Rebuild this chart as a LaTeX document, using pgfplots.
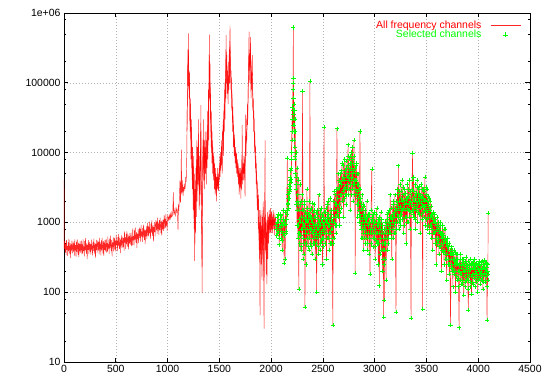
\documentclass[border=0pt]{standalone}
\usepackage{pgfplots}
\usepackage{pgfplotstable}
\pgfplotsset{compat=1.18}
\usepackage{fontspec}
\setmainfont{Liberation Sans}

\pgfplotstableread{
x y
0 4000
2 410
4 440
8 537
12 370
16 493
20 343
24 563
28 405
32 462
36 330
40 519
44 387
48 581
52 418
56 352
60 506
64 308
68 484
72 396
76 550
80 361
84 452
88 528
92 378
96 502
100 334
104 572
108 396
112 471
116 321
120 528
124 378
128 572
132 427
136 343
140 515
144 317
148 493
152 387
156 541
160 370
164 431
168 550
172 352
176 484
180 361
184 572
188 387
192 449
196 326
200 537
204 396
208 594
212 409
216 356
220 510
224 299
228 475
232 405
236 559
240 352
244 453
248 524
252 374
256 497
260 346
264 568
268 409
272 466
276 337
280 524
284 391
288 585
292 423
296 356
300 510
304 312
308 490
312 400
316 562
320 369
324 474
328 552
332 396
336 524
340 350
344 598
348 414
352 492
356 336
360 552
364 396
368 598
372 446
376 359
380 538
384 331
388 515
392 405
396 566
400 386
404 451
408 575
412 368
416 506
420 377
424 624
428 422
432 490
436 355
440 586
444 432
448 648
452 446
456 389
460 557
464 326
468 518
472 442
476 610
480 384
484 490
488 598
492 412
496 549
500 382
504 666
508 478
512 546
516 390
520 614
524 458
528 686
532 494
536 416
540 598
544 364
548 572
552 468
556 650
560 426
564 536
568 624
572 447
576 593
580 395
584 741
588 513
592 610
596 416
600 684
604 490
608 741
612 553
616 445
620 667
624 410
628 638
632 502
636 701
640 479
644 559
648 712
652 456
656 627
660 467
664 819
668 554
672 643
676 466
680 769
684 567
688 850
692 586
696 510
700 731
704 428
708 680
712 580
716 800
720 504
724 649
728 840
732 602
736 798
740 532
744 910
748 630
752 735
756 525
760 826
764 616
768 924
772 665
776 560
780 805
784 490
788 770
792 630
796 875
800 574
804 774
808 988
812 632
816 869
820 648
824 1027
828 695
832 806
836 585
840 964
844 711
848 1067
852 735
856 640
860 916
864 537
868 853
872 727
876 1003
880 632
884 927
888 1080
892 774
896 1026
900 684
904 1170
908 810
912 963
916 657
920 1080
924 774
928 1170
932 873
936 702
940 1053
944 648
948 1008
952 792
956 1107
960 756
964 1000
968 1275
972 816
976 1122
980 836
984 1326
988 898
992 1040
996 755
1000 1244
1005 1180
1010 1080
1015 1250
1020 1120
1025 1300
1030 1150
1035 1380
1040 1200
1046 1250
1050 1400
1056 2700
1060 1280
1065 1500
1070 1350
1075 1250
1080 1550
1085 1400
1090 1600
1095 1450
1101 780
1105 1700
1110 1550
1115 2400
1120 4000
1125 1900
1129 3200
1133 11000
1137 2500
1141 2800
1146 4000
1150 2400
1155 3200
1160 2800
1165 3600
1170 3000
1175 4500
1180 3800
1185 8000
1190 40000
1195 190000
1198 90000
1201 510000
1205 120000
1208 60000
1212 150000
1215 40000
1218 20000
1222 60000
1226 8000
1230 30000
1234 15000
1238 4000
1242 12000
1246 2500
1250 9000
1254 1500
1258 5000
1262 280
1266 3000
1270 700
1274 6000
1278 1200
1282 15000
1286 2000
1290 8000
1294 3500
1298 30000
1302 5000
1306 1500
1310 9000
1314 2500
1318 12000
1322 48000
1326 3000
1330 800
1334 97
1338 1500
1342 6000
1346 30000
1350 4000
1354 10000
1358 3000
1362 20000
1366 5000
1370 12000
1374 3500
1378 9000
1382 6000
1386 25000
1390 8000
1394 80000
1398 15000
1401 150000
1404 490000
1407 60000
1410 200000
1413 30000
1416 70000
1420 12000
1424 25000
1428 7000
1432 15000
1436 5000
1440 10000
1444 4000
1448 8000
1452 3000
1456 6000
1460 2500
1464 5000
1468 3500
1472 2000
1476 4500
1480 3000
1484 6000
1488 3500
1492 2800
1496 5000
1500 4000
1504 7000
1508 4500
1512 10000
1516 6000
1520 15000
1524 8000
1528 5000
1532 12000
1536 25000
1540 9000
1544 40000
1548 20000
1552 80000
1556 30000
1560 150000
1563 60000
1566 480000
1569 100000
1572 250000
1576 70000
1580 150000
1584 50000
1588 120000
1592 80000
1596 300000
1600 100000
1603 660000
1606 200000
1609 150000
1612 80000
1616 120000
1620 40000
1624 60000
1628 20000
1632 35000
1636 12000
1640 20000
1644 9000
1648 15000
1652 7000
1656 11000
1660 6000
1664 9000
1668 5000
1672 7500
1676 4500
1680 6500
1684 3500
1688 5500
1692 2500
1696 5000
1700 3200
1704 6000
1708 2200
1712 4500
1716 3000
1721 25000
1724 3500
1728 6000
1732 4000
1736 7000
1740 5000
1744 8000
1748 2300
1754 35000
1758 9000
1762 20000
1766 15000
1770 40000
1774 25000
1778 80000
1782 150000
1787 540000
1790 200000
1794 100000
1798 250000
1802 450000
1806 60000
1810 150000
1814 80000
1818 120000
1821 50000
1824 40000
1828 60000
1832 20000
1836 30000
1840 10000
1844 15000
1848 6000
1852 9000
1856 3500
1860 5000
1864 2000
1868 1500
1872 3000
1876 800
1880 1200
1884 400
1888 900
1893 47
1896 600
1900 1300
1904 250
1908 800
1912 150
1916 1200
1920 400
1924 2000
1928 200
1932 30
1936 900
1942 15000
1945 400
1948 1000
1952 180
1956 700
1960 130
1964 900
1968 300
1972 1200
1976 500
1980 1500
1984 700
1988 1300
1992 900
1996 1600
2000 800
2004 1400
2008 700
2012 1200
2016 900
2020 1500
2024 800
2028 1100
2032 650
2036 1300
2040 900
2044 1200
}\allchan

\pgfplotstableread{
x y
1187 20000
1192 70000
1197 300000
1200 200000
1203 250000
1207 80000
1210 100000
1214 60000
1217 25000
1220 35000
1224 15000
1228 20000
1232 6000
1236 9000
1240 3000
1244 7000
1248 1500
1252 4000
1256 800
1260 2500
1264 500
1268 1800
1272 4000
1276 2500
1280 8000
1284 3500
1288 12000
1292 5000
1296 15000
1300 8000
1304 3000
1308 5000
1312 1800
1316 6000
1320 20000
1324 6000
1328 1500
1332 300
1336 2500
1340 10000
1344 15000
1348 7000
1352 5000
1356 15000
1360 6000
1364 10000
1368 7000
1372 20000
1376 6000
1380 15000
1384 10000
1388 40000
1392 20000
1396 60000
1400 100000
1403 250000
1406 150000
1409 80000
1412 100000
1415 40000
1418 20000
1422 40000
1426 10000
1430 20000
1434 8000
1438 12000
1442 6000
1446 9000
1450 5000
1454 7000
1458 4000
1462 6000
1466 3000
1470 4500
1474 2800
1478 5000
1482 4000
1486 3000
1490 4500
1494 3500
1498 6000
1502 5000
1506 9000
1510 5500
1514 8000
1518 10000
1522 12000
1526 7000
1530 20000
1534 15000
1538 30000
1542 18000
1546 50000
1550 35000
1554 100000
1558 60000
1561 200000
1564 300000
1567 200000
1570 150000
1574 180000
1578 90000
1582 100000
1586 70000
1590 200000
1594 120000
1598 150000
1601 400000
1605 300000
1608 250000
1611 100000
1614 150000
1618 60000
1622 80000
1626 30000
1630 45000
1634 20000
1638 25000
1642 12000
1646 18000
1650 9000
1654 12000
1658 8000
1662 7000
1666 10000
1670 6000
1674 8000
1678 5000
1682 7000
1686 4500
1690 4000
1694 6000
1698 3000
1702 5000
1706 3500
1710 5500
1714 3800
1718 8000
1722 6000
1726 5000
1730 7000
1734 5000
1738 9000
1742 6000
1746 4000
1750 10000
1756 12000
1760 15000
1764 30000
1768 25000
1772 50000
1776 40000
1780 100000
1784 200000
1788 300000
1792 150000
1796 180000
1800 300000
1804 200000
1808 100000
1812 100000
1816 200000
1819 250000
1822 80000
1826 50000
1830 30000
1834 40000
1838 15000
1842 20000
1846 10000
1850 12000
1854 5000
1858 7000
1862 3000
1866 4000
1870 2000
1874 1500
1878 2500
1882 700
1886 1500
1890 300
1894 1000
1898 400
1902 1500
1906 500
1910 900
1914 300
1918 700
1922 1500
1926 500
1930 200
1934 1200
1938 600
1944 1300
1950 600
1954 300
1958 1100
1962 500
1966 1400
1970 800
1974 1000
1978 600
1982 1100
1986 900
1990 1500
1994 700
1998 1100
2002 1000
2006 800
2010 1300
2014 700
2018 1100
2022 1000
2026 1400
2030 900
2034 1000
2038 1200
2042 800
}\allmid

\pgfplotstableread{
x y
2048 900
2054 650
2060 1200
2066 750
2072 1000
2078 480
2084 850
2090 1300
2096 600
2102 950
2108 400
2114 1100
2120 700
2126 260
2132 900
2138 1400
2144 750
2150 1100
2156 8300
2160 1800
2164 2500
2168 1600
2172 3000
2176 2200
2180 4000
2184 3000
2188 5500
2192 4200
2196 8000
2200 15000
2204 30000
2207 20000
2210 80000
2212 40000
2214 620000
2216 118000
2218 60000
2220 30000
2223 15000
2226 40000
2229 8000
2232 20000
2236 5000
2240 10000
2244 3000
2248 1500
2252 6000
2256 2500
2260 900
2264 4000
2267 112
2270 1500
2274 700
2278 3500
2282 1000
2286 400
2290 2000
2294 800
2298 1500
2304 76000
2308 600
2312 1200
2316 350
2320 900
2324 2000
2327 61
2330 700
2334 1400
2338 500
2342 1100
2346 3000
2350 800
2354 450
2358 1300
2362 700
2366 2000
2370 900
2375 105000
2378 1200
2382 500
2386 1600
2390 800
2394 350
2398 1000
2402 600
2406 1400
2410 750
2414 1800
2418 500
2422 950
2426 300
2430 1200
2434 700
2440 100
2444 1500
2448 800
2452 450
2456 1100
2460 2500
2464 650
2468 900
2472 400
2476 1300
2480 700
2484 1600
2488 550
2492 1000
2496 250
2500 800
2504 1200
2508 600
2511 23000
2515 900
2520 500
2525 1400
2530 700
2535 300
2540 1000
2545 1800
2550 600
2555 1300
2560 400
2565 900
2570 2200
2575 700
2580 1100
2585 500
2590 800
2596 34
2600 1200
2605 600
2610 1500
2615 900
2620 2500
2625 700
2630 1800
2636 22000
2640 1500
2645 3000
2650 1200
2655 4000
2660 900
2665 2500
2670 5000
2675 1600
2680 3500
2685 7000
2690 2000
2695 4500
2700 1200
2705 3000
2710 8000
2715 2500
2720 5000
2725 1800
2730 6000
2735 3000
2740 9000
2744 13000
2748 2500
2752 5000
2756 4000
2760 7000
2764 1500
2768 3500
2772 6000
2776 10000
2780 4500
2784 3000
2788 8000
2792 2000
2796 5500
2800 15000
2804 3500
2808 6000
2812 187
2816 4000
2820 2500
2824 7000
2828 1800
2832 3500
2836 1200
2840 5000
2844 2200
2848 3000
2852 1000
2858 20000
2862 2000
2866 800
2870 1500
2874 600
2878 2500
2882 1100
2886 700
2890 1800
2894 400
2898 1200
2902 900
2906 1500
2910 500
2915 1100
2920 700
2925 2000
2930 400
2935 900
2940 1300
2945 600
2950 1000
2955 180
2960 800
2965 1500
2972 5800
2976 700
2980 1100
2985 450
2990 900
2995 1400
3000 600
3005 300
3010 1000
3015 700
3020 1600
3025 500
3030 900
3035 250
3040 1200
3045 124
3050 800
3055 600
3060 1400
3065 400
3070 900
3075 200
3080 700
3084 300
3087 44
3090 600
3093 77
3096 400
3100 1000
3105 500
3110 150
3115 800
3120 1300
3125 400
3130 900
3135 600
3140 1500
3145 800
3150 2500
3155 700
3160 1200
3165 300
3170 1000
3175 1800
3180 600
3185 1400
3190 900
3195 2500
3200 700
3206 52
3210 1500
3215 1000
3220 3000
3225 1200
3229 6500
3233 800
3238 2000
3242 1300
3246 3500
3250 900
3255 2200
3260 1500
3265 4000
3270 1100
3275 2500
3280 700
3285 1800
3290 3000
3295 1200
3300 2200
3305 500
3310 1600
3315 3500
3320 1000
3325 2400
3330 1500
3335 4000
3340 800
3345 2800
3351 43
3355 1800
3360 3000
3366 9800
3370 1500
3375 4500
3380 2000
3385 1200
3390 3500
3395 800
3400 2600
3405 1500
3410 4000
3415 1000
3420 2200
3425 3000
3430 1300
3435 2500
3440 700
3445 1900
3450 3500
3455 1100
3460 2300
3463 57
3467 1700
3472 3000
3476 1200
3480 2000
3485 4500
3490 900
3495 2500
3500 1500
3505 3000
3510 800
3515 1800
3520 1200
3525 2200
3530 700
3535 1500
3540 900
3545 1700
3550 600
3555 1200
3560 400
3565 1000
3570 1400
3575 700
3580 1100
3585 500
3590 900
3595 250
3600 800
3605 1200
3610 550
3615 900
3620 350
3625 750
3630 1000
3635 450
3640 700
3645 200
3650 600
3655 900
3660 380
3665 650
3670 250
3675 550
3680 800
3685 300
3690 500
3695 150
3700 450
3705 600
3710 250
3715 400
3720 180
3725 350
3733 34
3738 300
3742 450
3746 200
3750 350
3755 120
3760 300
3765 400
3770 180
3775 280
3780 100
3785 250
3790 350
3795 150
3800 300
3805 200
3810 120
3815 31
3820 250
3825 180
3830 350
3835 130
3840 220
3845 300
3850 150
3855 250
3860 90
3865 200
3870 280
3875 140
3880 230
3885 320
3890 160
3895 210
3900 110
3905 56
3910 250
3915 170
3920 300
3925 140
3930 220
3935 95
3940 260
3945 180
3950 130
3955 240
3960 170
3965 300
3970 120
3975 200
3980 260
3985 150
3990 230
3995 100
4000 210
4005 280
4010 160
4015 240
4020 130
4025 200
4030 270
4035 150
4040 220
4045 110
4050 250
4055 180
4060 290
4065 140
4070 210
4075 170
4080 260
4085 40
4090 200
4093 150
4096 1350
}\selchan

\pgfplotstableread{
x y
2051 800
2057 1000
2063 700
2069 1300
2075 850
2081 600
2087 1100
2093 750
2099 1250
2105 550
2111 900
2117 1500
2123 650
2129 1000
2135 300
2141 950
2147 700
2153 1300
2158 1500
2162 2200
2166 1900
2170 2600
2174 3500
2178 2800
2182 3300
2186 4500
2190 3800
2194 6000
2198 10000
2202 20000
2205 45000
2209 25000
2211 60000
2213 100000
2215 80000
2217 35000
2219 20000
2221 50000
2224 25000
2227 12000
2230 30000
2234 9000
2238 3500
2242 1800
2246 4500
2250 900
2254 2000
2258 600
2262 1800
2266 700
2272 1100
2276 500
2280 1800
2284 650
2288 1200
2292 450
2296 1000
2300 2500
2302 800
2306 1500
2310 300
2314 900
2318 1800
2322 500
2326 1100
2332 800
2336 250
2340 1300
2344 600
2348 1000
2352 1600
2356 700
2360 1100
2364 400
2368 1300
2372 600
2376 1500
2380 800
2384 1200
2388 450
2392 1100
2396 700
2400 1900
2404 900
2408 500
2412 1200
2416 800
2420 1500
2424 650
2428 900
2432 1400
2437 500
2442 900
2446 600
2450 1300
2454 800
2458 350
2462 1000
2466 700
2470 1500
2474 900
2478 500
2482 1100
2486 750
2490 1300
2494 600
2498 1000
2502 450
2506 900
2510 1400
2513 700
2518 1100
2523 800
2528 1600
2533 1000
2538 600
2543 1200
2548 900
2553 2000
2558 700
2563 1100
2568 500
2573 1300
2578 800
2583 1500
2588 600
2593 1000
2598 500
2603 2000
2608 1000
2613 2800
2618 1200
2623 1800
2628 900
2633 3000
2638 1300
2643 2200
2648 5000
2653 1800
2658 3200
2663 1400
2668 3800
2673 2500
2678 5500
2683 2000
2688 4000
2693 2800
2698 6500
2703 2200
2708 4000
2713 5500
2718 3200
2723 7500
2728 2500
2733 4500
2738 3500
2742 6500
2746 4500
2750 8000
2754 3000
2758 5500
2762 3500
2766 9000
2770 4000
2774 2500
2778 7000
2782 5000
2786 12000
2790 3500
2794 7000
2798 4000
2802 9000
2806 2500
2810 5000
2814 3000
2818 6500
2822 4000
2826 2500
2830 5000
2834 2800
2838 1800
2842 3500
2846 1500
2850 2500
2854 1300
2856 3000
2860 1200
2864 2200
2868 900
2872 1800
2876 1000
2880 1600
2884 600
2888 1300
2892 800
2896 1700
2900 600
2904 1100
2908 800
2912 1300
2917 600
2922 1000
2927 500
2932 1200
2937 700
2942 900
2947 350
2952 1300
2957 700
2962 1000
2968 500
2974 1200
2978 800
2982 600
2987 1300
2992 700
2997 1000
3002 450
3007 800
3012 1300
3017 550
3022 900
3027 700
3032 1100
3037 500
3042 700
3047 1000
3052 350
3057 900
3062 700
3067 1100
3072 500
3077 800
3082 400
3089 250
3092 800
3095 500
3098 700
3102 300
3107 900
3112 600
3117 1100
3122 700
3127 1400
3132 500
3137 1000
3142 700
3147 1200
3152 900
3157 1600
3162 600
3167 1100
3172 800
3177 1300
3182 2000
3187 700
3192 1200
3197 1600
3202 1000
3208 2000
3212 800
3217 1800
3222 1300
3227 2500
3231 1600
3236 1000
3240 2800
3244 1700
3248 1100
3252 2800
3257 1300
3262 2000
3267 1500
3272 3200
3277 1600
3282 2100
3287 900
3292 1500
3297 2600
3302 1200
3307 1900
3312 1000
3317 2200
3322 1500
3327 3000
3332 1800
3337 1200
3342 2000
3348 1400
3353 2500
3358 1500
3363 4000
3368 2200
3372 1300
3377 2800
3382 1700
3387 2400
3392 1100
3397 2000
3402 1600
3407 3200
3412 1800
3417 2600
3422 1400
3427 2000
3432 3300
3437 1600
3442 2500
3447 1300
3452 2200
3457 1700
3461 3000
3465 1400
3469 2200
3474 1700
3478 2800
3482 1500
3487 2100
3492 1700
3497 3200
3502 1100
3507 2000
3512 1400
3517 2400
3522 900
3527 1600
3532 1200
3537 2000
3542 1300
3547 900
3552 1300
3557 800
3562 1100
3567 700
3572 1000
3577 1300
3582 750
3587 1000
3592 600
3597 900
3602 500
3607 800
3612 1000
3617 600
3622 800
3627 450
3632 700
3637 900
3642 500
3647 650
3652 400
3657 700
3662 500
3667 800
3672 400
3677 600
3682 350
3687 550
3692 300
3697 500
3702 350
3707 450
3712 300
3717 500
3722 250
3728 400
3735 220
3740 350
3744 250
3748 400
3752 220
3757 350
3762 200
3767 300
3772 250
3777 380
3782 200
3787 300
3792 170
3797 260
3802 350
3807 160
3812 240
3817 200
3822 300
3827 150
3832 240
3837 180
3842 270
3847 130
3852 200
3857 300
3862 170
3867 240
3872 120
3877 200
3882 260
3887 150
3892 230
3897 180
3902 280
3907 150
3912 200
3917 240
3922 120
3927 210
3932 170
3937 250
3942 140
3947 220
3952 280
3957 160
3962 220
3967 190
3972 250
3977 140
3982 190
3987 240
3992 170
3997 260
4002 150
4007 200
4012 250
4017 180
4022 220
4027 150
4032 190
4037 280
4042 170
4047 220
4052 140
4057 230
4062 190
4067 260
4072 150
4077 200
4082 230
4087 120
4091 250
4094 180
}\selmid

\definecolor{gpgreen}{rgb}{0,1,0}

\begin{document}
\begin{tikzpicture}
\begin{axis}[
  scale only axis, width=466bp, height=349bp,
  xmin=0, xmax=4500, ymode=log, ymin=10, ymax=1000000,
  xtick={0,500,1000,1500,2000,2500,3000,3500,4000,4500},
  xticklabels={0,500,1000,1500,2000,2500,3000,3500,4000,4500},
  ytick={10,100,1000,10000,100000,1000000},
  yticklabels={10,100,1000,10000,100000,1e+06},
  minor ytick={20,50,80,200,500,800,2000,5000,8000,20000,50000,80000,200000,500000,800000},
  minor xtick={},
  xtick pos=both, ytick pos=both,
  xticklabel pos=lower, yticklabel pos=left,
  tick align=inside,
  major tick length=4.5bp, minor tick length=2.5bp,
  grid=major,
  major grid style={dash pattern=on 0.7bp off 2.3bp, black!30, line width=0.5bp},
  minor grid style={draw=none},
  axis line style={line width=0.7bp, black},
  every tick/.style={black, line width=0.6bp},
  tick label style={font=\fontsize{10.5}{12}\selectfont},
  legend style={draw=none, fill=none, at={(axis description cs:0.981,0.983)}, anchor=north east,
    font=\fontsize{10.5}{12}\selectfont, inner sep=0pt, row sep=-3.8bp, column sep=7bp},
  legend cell align=right,
  legend plot pos=right,
]
\addplot[red, line width=0.45bp, opacity=0.85, mark=none,
  legend image code/.code={\draw[red, line width=0.5bp] (0bp,0bp) -- (30bp,0bp);}] table {\allchan};
\addlegendentry{\textcolor{red}{All frequency channels}}
\addplot[red, line width=0.45bp, opacity=0.85, mark=none, forget plot] table {\allmid};
\addplot[red, line width=0.45bp, opacity=0.85, mark=none, forget plot] table {\selchan};
\addplot[red, line width=0.45bp, opacity=0.85, mark=none, forget plot] table {\selmid};
\addplot[only marks, color=gpgreen, mark=+, mark size=2.1bp, mark options={line width=0.45bp},
  legend image code/.code={\draw[gpgreen, line width=0.7bp] (12.5bp,0bp) -- (17.5bp,0bp) (15bp,-2.5bp) -- (15bp,2.5bp); \path (0bp,0bp) (30bp,0bp);}] table {\selchan};
\addlegendentry{\textcolor{gpgreen}{Selected channels}}
\addplot[only marks, color=gpgreen, mark=+, mark size=2.1bp, mark options={line width=0.45bp}, forget plot] table {\selmid};
\end{axis}
\pgfresetboundingbox
\path[use as bounding box] ([xshift=-64bp,yshift=-23bp]current axis.south west) rectangle ([xshift=20bp,yshift=13bp]current axis.north east);
\end{tikzpicture}
\end{document}
